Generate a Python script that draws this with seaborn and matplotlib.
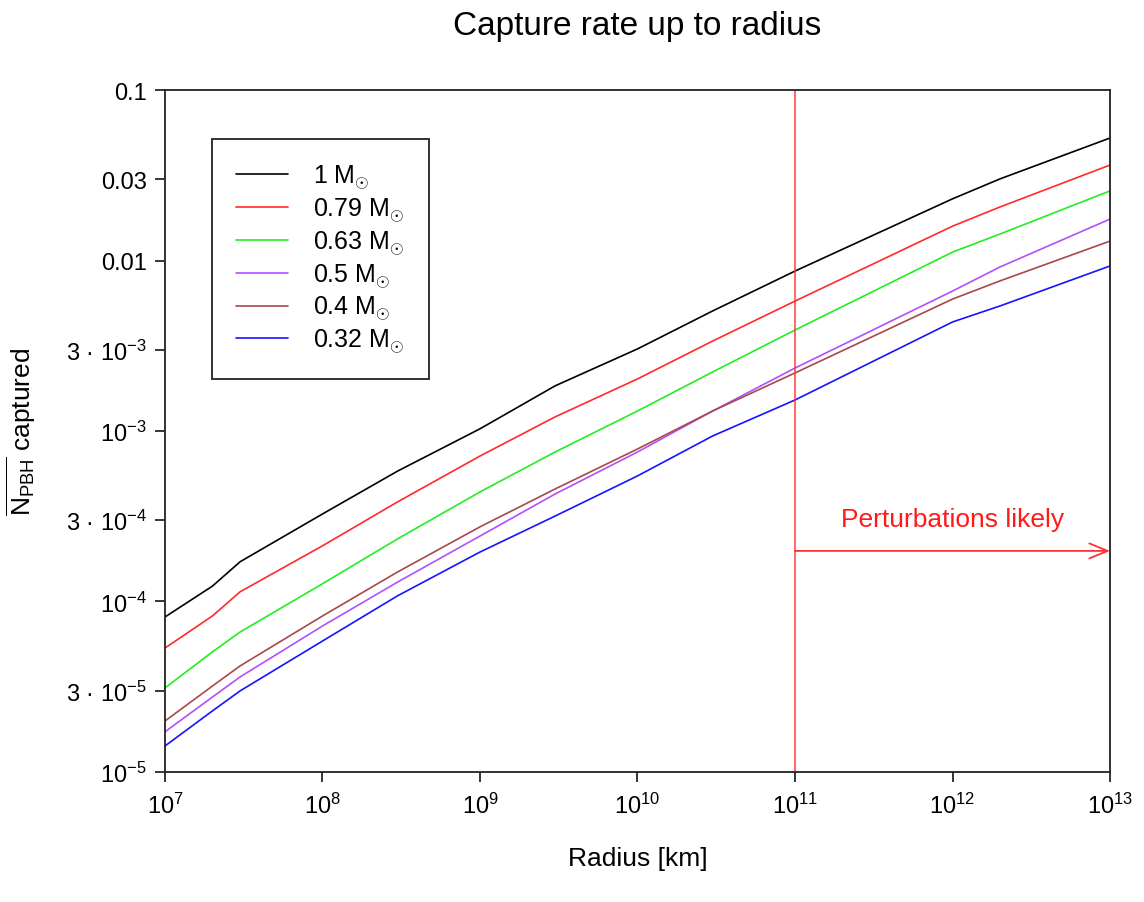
import matplotlib
matplotlib.use("Agg")
import matplotlib.pyplot as plt
import matplotlib.ticker as mticker
import numpy as np
import pandas as pd
import seaborn as sns

radius_km = [1e7, 2e7, 3e7, 1e8, 3e8, 1e9, 3e9, 1e10, 3e10, 1e11, 1e12, 2e12, 1e13]

n_1 = [8.11e-5, 1.23e-4, 1.71e-4, 3.26e-4, 5.82e-4, 1.03e-3, 1.84e-3, 3.03e-3, 5.06e-3, 8.67e-3, 2.30e-2, 3.01e-2, 5.23e-2]
n_079 = [5.33e-5, 8.22e-5, 1.14e-4, 2.12e-4, 3.84e-4, 7.13e-4, 1.21e-3, 2.02e-3, 3.37e-3, 5.78e-3, 1.59e-2, 2.06e-2, 3.63e-2]
n_063 = [3.11e-5, 5.06e-5, 6.62e-5, 1.27e-4, 2.33e-4, 4.39e-4, 7.53e-4, 1.31e-3, 2.22e-3, 3.91e-3, 1.12e-2, 1.43e-2, 2.56e-2]
n_05 = [1.72e-5, 2.75e-5, 3.61e-5, 7.18e-5, 1.30e-4, 2.42e-4, 4.27e-4, 7.53e-4, 1.31e-3, 2.34e-3, 6.62e-3, 9.16e-3, 1.75e-2]
n_04 = [1.99e-5, 3.19e-5, 4.19e-5, 8.22e-5, 1.49e-4, 2.74e-4, 4.57e-4, 7.84e-4, 1.31e-3, 2.19e-3, 5.94e-3, 7.59e-3, 1.30e-2]
n_032 = [1.42e-5, 2.28e-5, 2.99e-5, 5.86e-5, 1.08e-4, 1.95e-4, 3.17e-4, 5.45e-4, 9.35e-4, 1.52e-3, 4.36e-3, 5.41e-3, 9.29e-3]

mass_labels = [r"1 M$_{\odot}$", r"0.79 M$_{\odot}$", r"0.63 M$_{\odot}$",
               r"0.5 M$_{\odot}$", r"0.4 M$_{\odot}$", r"0.32 M$_{\odot}$"]
mass_colors = ["#000000", "#ff2a2a", "#22ee22", "#b050ff", "#a84848", "#1414ff"]

y_ticks = [1e-5, 3e-5, 1e-4, 3e-4, 1e-3, 3e-3, 1e-2, 3e-2, 1e-1]
y_tick_labels = [r"10$^{-5}$", "3 \u00b7 10$^{-5}$", r"10$^{-4}$", "3 \u00b7 10$^{-4}$",
                 r"10$^{-3}$", "3 \u00b7 10$^{-3}$", "0.01", "0.03", "0.1"]
x_ticks = [1e7, 1e8, 1e9, 1e10, 1e11, 1e12, 1e13]
x_tick_labels = [r"10$^{%d}$" % k for k in range(7, 14)]

cut_radius = 1e11
arrow_y = 1.98e-4
note_y = 3.05e-4

sns.set_theme(style="ticks")
plt.rcParams["font.family"] = ["Liberation Sans", "DejaVu Sans"]
plt.rcParams["mathtext.fontset"] = "custom"
plt.rcParams["mathtext.rm"] = "Liberation Sans"
plt.rcParams["mathtext.it"] = "Liberation Sans:italic"
plt.rcParams["mathtext.bf"] = "Liberation Sans:bold"
plt.rcParams["text.color"] = "black"
plt.rcParams["axes.labelcolor"] = "black"

series = [n_1, n_079, n_063, n_05, n_04, n_032]
df = pd.concat(
    [pd.DataFrame({"radius": radius_km, "n": vals, "mass": lab}) for vals, lab in zip(series, mass_labels)],
    ignore_index=True,
)

fig = plt.figure(figsize=(11.44, 9.03), dpi=100)
ax = fig.add_axes([0.1442, 0.1440, 0.8261, 0.7552])

sns.lineplot(data=df, x="radius", y="n", hue="mass", hue_order=mass_labels,
             palette=mass_colors, linewidth=1.2, ax=ax)

ax.set_xscale("log")
ax.set_yscale("log")
ax.set_xlim(1e7, 1e13)
ax.set_ylim(1e-5, 0.1)

ax.yaxis.set_major_locator(mticker.FixedLocator(y_ticks))
ax.yaxis.set_major_formatter(mticker.FixedFormatter(y_tick_labels))
ax.yaxis.set_minor_locator(mticker.NullLocator())
ax.xaxis.set_major_locator(mticker.FixedLocator(x_ticks))
ax.xaxis.set_major_formatter(mticker.FixedFormatter(x_tick_labels))
ax.xaxis.set_minor_locator(mticker.NullLocator())

ax.tick_params(axis="both", direction="out", length=7, width=1.1, colors="black", labelsize=17)
ax.tick_params(axis="x", pad=8)
ax.tick_params(axis="y", pad=6)
for sp in ax.spines.values():
    sp.set_visible(True)
    sp.set_color("#222222")
    sp.set_linewidth(1.3)

ax.axvline(cut_radius, color="#ff3030", linewidth=1.3, alpha=0.8)
ax.annotate("", xy=(1e13, arrow_y), xytext=(cut_radius, arrow_y),
            arrowprops=dict(arrowstyle="->,head_length=1.1,head_width=0.45", color="#ff3030",
                            linewidth=1.3, shrinkA=0, shrinkB=0))
ax.text(10 ** 12, note_y, "Perturbations likely", color="#ff1a1a", fontsize=19,
        ha="center", va="center")

ax.set_title("Capture rate up to radius", fontsize=24, pad=40, color="black")
ax.set_xlabel("Radius [km]", fontsize=19, labelpad=20)
ax.set_ylabel(r"$\overline{\mathrm{N}_{\mathrm{PBH}}}$ captured", fontsize=19, labelpad=20)

leg = ax.legend(loc="upper left", bbox_to_anchor=(0.05, 0.928), fontsize=18,
                frameon=True, fancybox=False, handlelength=2.1, handletextpad=1.0,
                borderpad=0.95, labelspacing=0.18, borderaxespad=0)
leg.get_frame().set_edgecolor("#222222")
leg.get_frame().set_linewidth(1.3)
leg.get_frame().set_alpha(1)
for t in leg.get_texts():
    t.set_color("black")

fig.savefig("out.png", dpi=100)
